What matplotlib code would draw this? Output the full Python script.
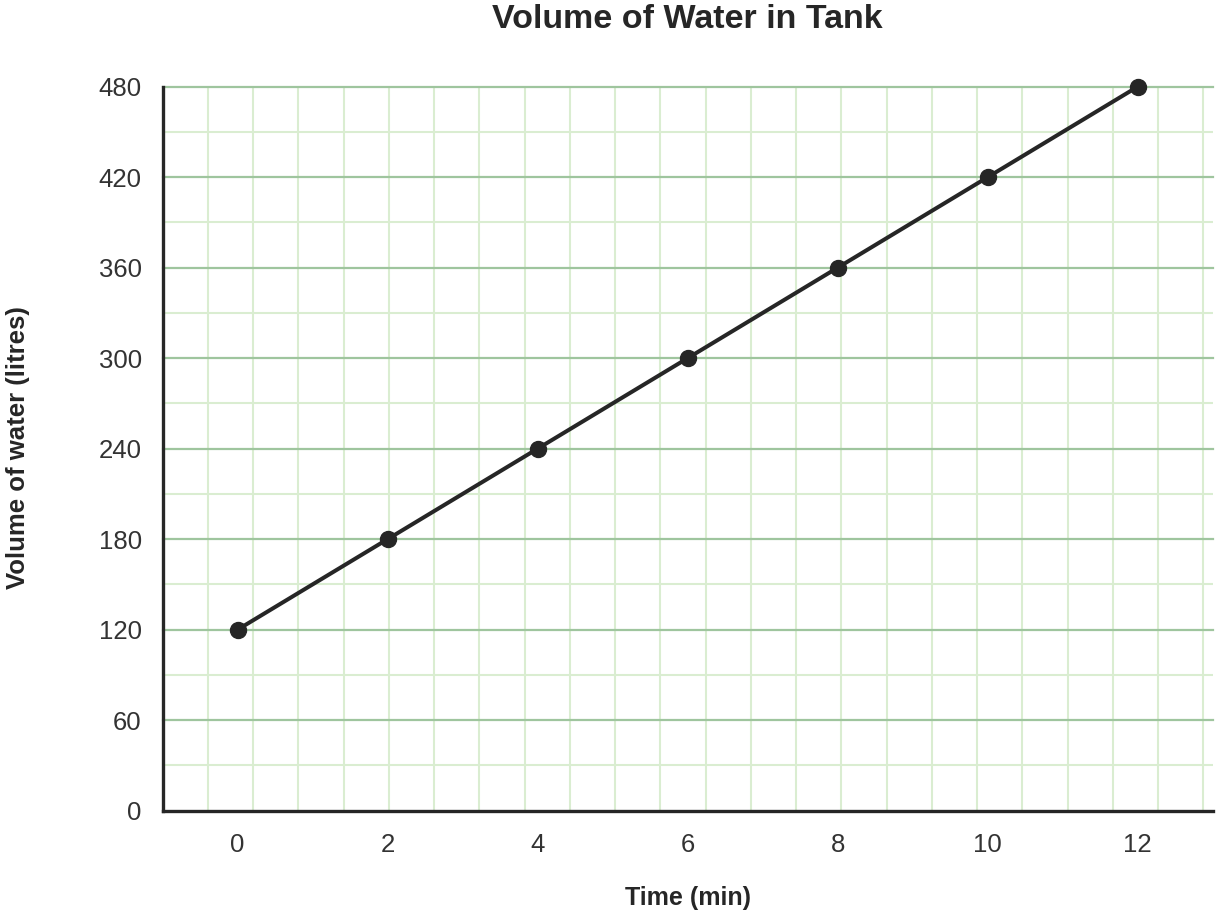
import matplotlib
matplotlib.use("Agg")
import matplotlib.pyplot as plt
import numpy as np

plt.rcParams['font.family'] = ['Liberation Sans', 'DejaVu Sans']

time_min = [0, 2, 4, 6, 8, 10, 12]
volume_l = [120, 180, 240, 300, 360, 420, 480]
x_ticks = [0, 2, 4, 6, 8, 10, 12]
y_ticks = [0, 60, 120, 180, 240, 300, 360, 420, 480]

W, H = 1220, 918
fig = plt.figure(figsize=(W / 100, H / 100), dpi=100)
ax_l, ax_r, ax_t, ax_b = 162.5, 1212.7, 86.7, 810.7
ax = fig.add_axes([ax_l / W, (H - ax_b) / H, (ax_r - ax_l) / W, (ax_b - ax_t) / H])

xmin, xmax = -1, 13
ymin, ymax = 0, 480
ax.set_xlim(xmin, xmax)
ax.set_ylim(ymin, ymax)

major_c = '#9fc59e'
minor_c = '#daedd1'

# square paper grid: minor step of 30 litres, same pixel size horizontally
px_per_y = (ax_b - ax_t) / (ymax - ymin)
px_per_x = (ax_r - ax_l) / (xmax - xmin)
dx = 30 * px_per_y / px_per_x
xv = xmin + dx
while xv < xmax:
    ax.axvline(xv, color=minor_c, lw=1.5, zorder=1)
    xv += dx
for yv in range(30, 480, 60):
    ax.axhline(yv, color=minor_c, lw=1.5, zorder=1)
for yv in y_ticks[1:]:
    ax.axhline(yv, color=major_c, lw=1.6, zorder=2, clip_on=False)

ax.plot(time_min, volume_l, color='#262626', lw=2.9, marker='o', ms=11.5,
        zorder=5, clip_on=False, solid_capstyle='round')

ax.set_xticks(x_ticks)
ax.set_yticks(y_ticks)
ax.tick_params(axis='both', length=0, labelsize=18.5, labelcolor='#333333')
ax.tick_params(axis='x', pad=16)
ax.tick_params(axis='y', pad=15)

for s in ['top', 'right']:
    ax.spines[s].set_visible(False)
for s in ['left', 'bottom']:
    ax.spines[s].set_color('#262626')
    ax.spines[s].set_linewidth(2.4)
    ax.spines[s].set_zorder(6)

fig.text(687.6 / W, 1 - 20 / H, 'Volume of Water in Tank', ha='center', va='center',
         fontsize=24.5, fontweight='bold', color='#262626')
fig.text(687.6 / W, 1 - 898 / H, 'Time (min)', ha='center', va='center',
         fontsize=18, fontweight='bold', color='#262626')
fig.text(18 / W, 1 - 448 / H, 'Volume of water (litres)', ha='center', va='center',
         rotation=90, fontsize=18.5, fontweight='bold', color='#262626')

fig.savefig('out.png', dpi=100)
